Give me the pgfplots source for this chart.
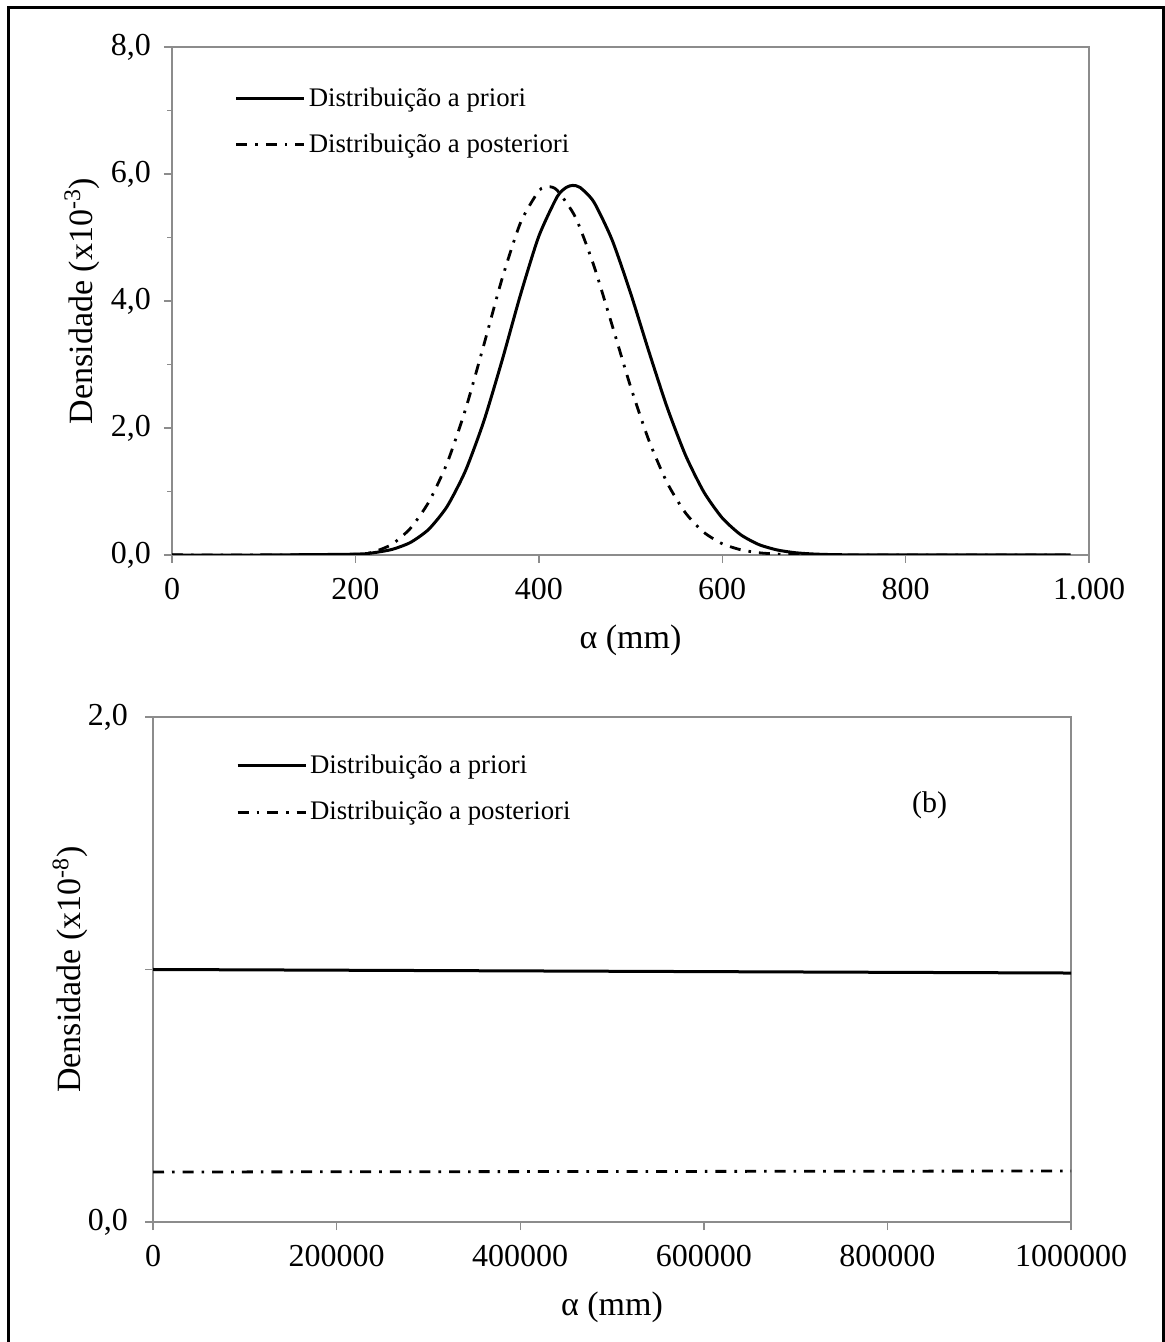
\documentclass[border=0pt]{standalone}
\usepackage{fontspec}
\setmainfont{Liberation Serif}
\usepackage{pgfplots}
\usepackage{pgfplotstable}
\pgfplotsset{compat=1.18}

\pgfplotstableread{
x y
0 0
100 0
200 0.013
220 0.036
240 0.088
260 0.197
280 0.405
300 0.764
320 1.325
340 2.105
360 3.066
380 4.097
400 5.019
420 5.641
430 5.789
437 5.82
445 5.788
460 5.560
480 4.959
500 4.128
520 3.206
540 2.323
560 1.571
580 0.991
600 0.584
620 0.321
640 0.164
660 0.079
680 0.035
700 0.015
720 0.006
750 0.001
800 0
900 0
980 0
}\priorA

\pgfplotstableread{
x y
0 0
100 0
200 0.01
220 0.05
240 0.17
260 0.42
280 0.834
300 1.447
320 2.289
340 3.305
360 4.353
380 5.231
400 5.734
410 5.80
420 5.744
440 5.318
460 4.558
480 3.616
500 2.655
520 1.806
540 1.136
560 0.662
580 0.357
600 0.178
620 0.083
640 0.035
660 0.014
680 0.005
700 0.001
750 0
850 0
980 0
}\postA

\pgfplotstableread{
x y
0 1.000
1000000 0.986
}\priorB

\pgfplotstableread{
x y
0 0.198
1000000 0.202
}\postB

\tikzset{dashdotx/.style={line width=1.4pt, dash pattern=on 5.5pt off 4pt on 1.3pt off 4pt}}

\pgfplotsset{mystyle/.style={
  scale only axis,
  axis line style={black!45, line width=0.7pt},
  every tick/.style={black!45, line width=0.7pt},
  tick align=outside,
  major tick length=4pt,
  minor tick length=2.5pt,
  xtick pos=left, ytick pos=left,
  tick label style={font=\fontsize{16}{18}\selectfont},
  xticklabel style={yshift=-4pt},
  label style={font=\fontsize{17}{20}\selectfont},
  /pgf/number format/assume math mode=true,
  yticklabel style={/pgf/number format/fixed, /pgf/number format/fixed zerofill, /pgf/number format/precision=1, /pgf/number format/use comma},
  legend cell align=left,
  legend image code/.code={\draw[##1] (0pt,0pt) -- (34pt,0pt);},
  legend style={draw=none, fill=none, inner sep=0pt, row sep=9.5pt,
    font=\fontsize{13.4}{15.5}\selectfont,
    nodes={inner sep=1.5pt}},
}}

\begin{document}
\begin{tikzpicture}[x=1pt,y=1pt]
\useasboundingbox (0,0) rectangle (582.5,671);
\draw[line width=1.5pt] (4,-5) rectangle (581.5,667);

\begin{axis}[mystyle,
  at={(86pt,393.5pt)}, anchor=south west,
  width=458.5pt, height=254pt,
  xmin=0, xmax=1000, ymin=0, ymax=8,
  xtick={0,200,400,600,800,1000},
  ytick={0,2,4,6,8},
  minor y tick num=1,
  xticklabel style={/pgf/number format/use comma},
  yticklabel style={xshift=-3pt},
  xlabel={α (mm)},
  ylabel={Densidade (x10\textsuperscript{-3})},
  xlabel style={at={(axis description cs:0.5,-0.167)}, anchor=center},
  ylabel style={at={(axis description cs:-0.098,0.5)}, anchor=center},
  legend style={at={(axis description cs:0.068,0.927)}, anchor=north west},
]
\addplot[black, line width=1.5pt, smooth, tension=0.4] table[x=x,y=y] {\priorA};
\addlegendentry{Distribuição a priori}
\addplot[black, dashdotx, smooth, tension=0.4] table[x=x,y=y] {\postA};
\addlegendentry{Distribuição a posteriori}
\end{axis}

\begin{axis}[mystyle,
  at={(76.5pt,60pt)}, anchor=south west,
  width=459pt, height=252.5pt,
  xmin=0, xmax=1000000, ymin=0, ymax=2,
  xtick={0,200000,400000,600000,800000,1000000},
  scaled x ticks=false,
  xticklabel style={/pgf/number format/fixed, /pgf/number format/precision=0, /pgf/number format/1000 sep={}},
  ytick={0,1,2},
  yticklabels={{0,0},{},{2,0}},
  yticklabel style={xshift=-5pt},
  xlabel={α (mm)},
  ylabel={Densidade (x10\textsuperscript{-8})},
  xlabel style={at={(axis description cs:0.5,-0.168)}, anchor=center},
  ylabel style={at={(axis description cs:-0.090,0.5)}, anchor=center},
  legend style={at={(axis description cs:0.090,0.932)}, anchor=north west},
]
\addplot[black, line width=1.5pt] table[x=x,y=y] {\priorB};
\addlegendentry{Distribuição a priori}
\addplot[black, dashdotx] table[x=x,y=y] {\postB};
\addlegendentry{Distribuição a posteriori}
\node[font=\fontsize{15}{18}\selectfont] at (axis cs:846000,1.65) {(b)};
\end{axis}
\end{tikzpicture}
\end{document}
